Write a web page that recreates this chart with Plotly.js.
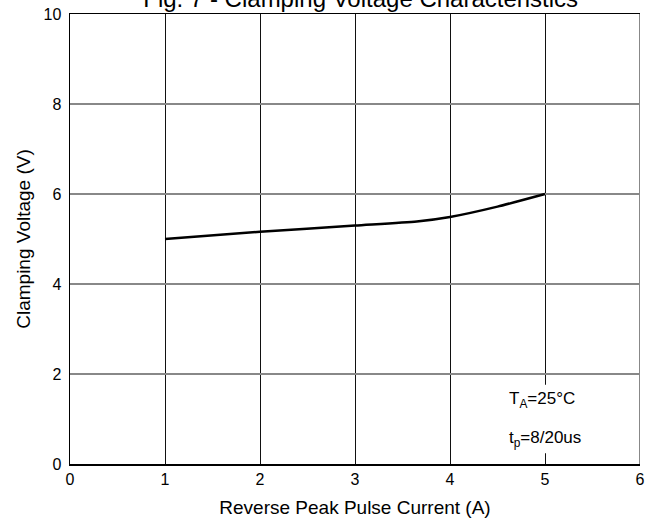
<!DOCTYPE html>
<html>
<head>
<meta charset="utf-8">
<script src="https://cdn.plot.ly/plotly-3.0.1.min.js"></script>
<style>html,body{margin:0;padding:0;background:#fff;}#chart{width:657px;height:525px;}</style>
</head>
<body>
<div id="chart"></div>
<script>
const currentA = [1, 2, 3, 3.65, 4, 4.5, 5];
const clampV = [5.0, 5.16, 5.3, 5.39, 5.49, 5.72, 6.0];
const xTicks = [0, 1, 2, 3, 4, 5, 6];
const yTicks = [0, 2, 4, 6, 8, 10];
const titleText = "Fig. 7 - Clamping Voltage Characteristics";
const xTitle = "Reverse Peak Pulse Current (A)";
const yTitle = "Clamping Voltage (V)";
const noteLines = ["T<sub>A</sub>=25°C", "t<sub>p</sub>=8/20us"];

const font = "Arial, 'Liberation Sans', sans-serif";

const trace = {
  x: currentA, y: clampV, mode: "lines", type: "scatter",
  line: {color: "#000", width: 2.5, shape: "spline", smoothing: 0.6},
  hoverinfo: "skip"
};

const layout = {
  width: 657, height: 525,
  margin: {l: 70, r: 17, t: 14, b: 61},
  paper_bgcolor: "#fff", plot_bgcolor: "#fff",
  showlegend: false,
  font: {family: font, color: "#000", size: 16},
  title: {text: titleText, font: {family: font, size: 24, color: "#000"},
          xref: "paper", x: 0.51, xanchor: "center", yref: "container", y: 0.986, yanchor: "bottom"},
  xaxis: {
    range: [0, 6], tickvals: xTicks, ticktext: xTicks.map(String),
    showgrid: true, gridcolor: "#111", gridwidth: 1,
    showline: true, linecolor: "#000", linewidth: 1.5, mirror: true,
    zeroline: false, ticks: "", ticklen: 0,
    tickfont: {family: font, size: 16, color: "#000"},
    title: {text: xTitle, font: {family: font, size: 19, color: "#000"}, standoff: 14}
  },
  yaxis: {
    range: [0, 10], tickvals: yTicks, ticktext: yTicks.map(String),
    showgrid: true, gridcolor: "#888", gridwidth: 1.5,
    showline: true, linecolor: "#000", linewidth: 1.5, mirror: false,
    zeroline: false, ticks: "", ticklen: 0, ticklabelstandoff: 4,
    tickfont: {family: font, size: 16, color: "#000"},
    title: {text: yTitle, font: {family: font, size: 19, color: "#000"}, standoff: 8}
  },
  shapes: [
    {type: "line", xref: "x", yref: "paper", x0: 6, x1: 6, y0: 0, y1: 1,
     line: {color: "#888", width: 2}, layer: "above"},
    {type: "rect", xref: "x", yref: "y", x0: 4.4, x1: 5.65, y0: 0.24, y1: 1.76,
     fillcolor: "#fff", line: {width: 0}, layer: "between"}
  ],
  annotations: [
    {xref: "x", yref: "y", x: 4.6, y: 1.42, xanchor: "left", yanchor: "middle",
     text: noteLines[0], showarrow: false, align: "left",
     font: {family: font, size: 17, color: "#000"}},
    {xref: "x", yref: "y", x: 4.6, y: 0.55, xanchor: "left", yanchor: "middle",
     text: noteLines[1], showarrow: false, align: "left",
     font: {family: font, size: 17, color: "#000"}}
  ]
};

Plotly.newPlot("chart", [trace], layout, {displayModeBar: false, staticPlot: true});
</script>
</body>
</html>
